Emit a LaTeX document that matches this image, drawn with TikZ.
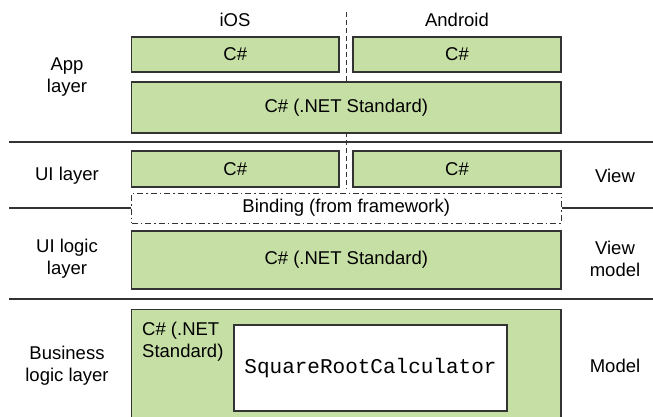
\documentclass[tikz,border=0pt]{standalone}
\usepackage{fontspec}
\setmainfont{Liberation Sans}
\setmonofont{Liberation Mono}
\usepackage{xcolor}
\usetikzlibrary{positioning}
\definecolor{codegreen}{HTML}{C6DFA5}
\definecolor{edge}{HTML}{333333}
\tikzset{
    codebox/.style={
        rectangle, draw=edge, fill=codegreen, line width=1.2pt,
        inner sep=0pt, text=black, align=center
    },
    bindbox/.style={
        rectangle, draw=edge, line width=1pt, inner sep=0pt,
        dash pattern=on 6pt off 3pt on 1.5pt off 3pt
    },
    layerlabel/.style={
        align=center, inner sep=0pt
    },
    sepline/.style={
        line width=1.2pt, draw=edge
    },
    platline/.style={
        line width=1pt, draw=edge, dash pattern=on 5pt off 3pt
    }
}

\begin{document}
\begin{tikzpicture}[x=1pt, y=-1pt, every node/.append style={font=\fontsize{18.5}{22}\selectfont}]
      \clip (0,0) rectangle (653,416);
      \fill[white] (0,0) rectangle (653,416);

      % platform headings and split
      \node[layerlabel] (ios) at (235,20) {iOS};
      \node[layerlabel] (android) at (457,20) {Android};
      \coordinate (splittop) at (346,12);
      \coordinate (splitbot) at (346,189);
      \draw[platline] (splittop) -- (splitbot);

      % app layer
      \node[codebox, minimum width=207.5pt, minimum height=35pt] (appios) at (235.25,54.5) {C\#};
      \node[codebox, minimum width=208pt, minimum height=35pt] (appdroid) at (457,54.5) {C\#};
      \node[codebox, minimum width=429.5pt, minimum height=51pt] (appstd) at (346.25,107.5) {C\# (.NET Standard)};
      \node[layerlabel] (applbl) at (67,77) {App\\layer};

      \coordinate (sepa) at (9,142);
      \coordinate (sepb) at (653,142);
      \draw[sepline] (sepa) -- (sepb);

      % ui layer
      \node[codebox, minimum width=207.5pt, minimum height=36pt] (uiios) at (235.25,169) {C\#};
      \node[codebox, minimum width=208pt, minimum height=36pt] (uidroid) at (457,169) {C\#};
      \node[layerlabel] (uilbl) at (67,176) {UI layer};
      \node[layerlabel] (viewlbl) at (615,176) {View};

      \node[bindbox, minimum width=429.5pt, minimum height=30pt] (bind) at (346.25,208) {Binding (from framework)};
      \coordinate (sepc) at (9,208);
      \coordinate (sepd) at (653,208);
      \draw[sepline] (sepc) -- (bind.west);
      \draw[sepline] (bind.east) -- (sepd);

      % ui logic layer
      \node[codebox, minimum width=429.5pt, minimum height=58pt] (vmstd) at (346.25,260) {C\# (.NET Standard)};
      \node[layerlabel] (uilogiclbl) at (67,259) {UI logic\\layer};
      \node[layerlabel] (vmlbl) at (615,259) {View\\model};

      \coordinate (sepe) at (9,299);
      \coordinate (sepf) at (653,299);
      \draw[sepline] (sepe) -- (sepf);

      % business logic layer
      \node[codebox, minimum width=429.5pt, minimum height=130pt, anchor=north] (bizstd) at (346.25,309) {};
      \node[layerlabel, align=left, anchor=north west] (biztxt) at (142,322) {C\# (.NET\\Standard)};
      \node[rectangle, draw=edge, fill=white, line width=1.2pt, minimum width=273pt, minimum height=86pt,
            font=\fontsize{21}{24}\selectfont\ttfamily] (calc) at (370.5,368) {SquareRootCalculator};
      \node[layerlabel] (bizlbl) at (67,366) {Business\\logic layer};
      \node[layerlabel] (modellbl) at (615,366) {Model};
\end{tikzpicture}
\end{document}
